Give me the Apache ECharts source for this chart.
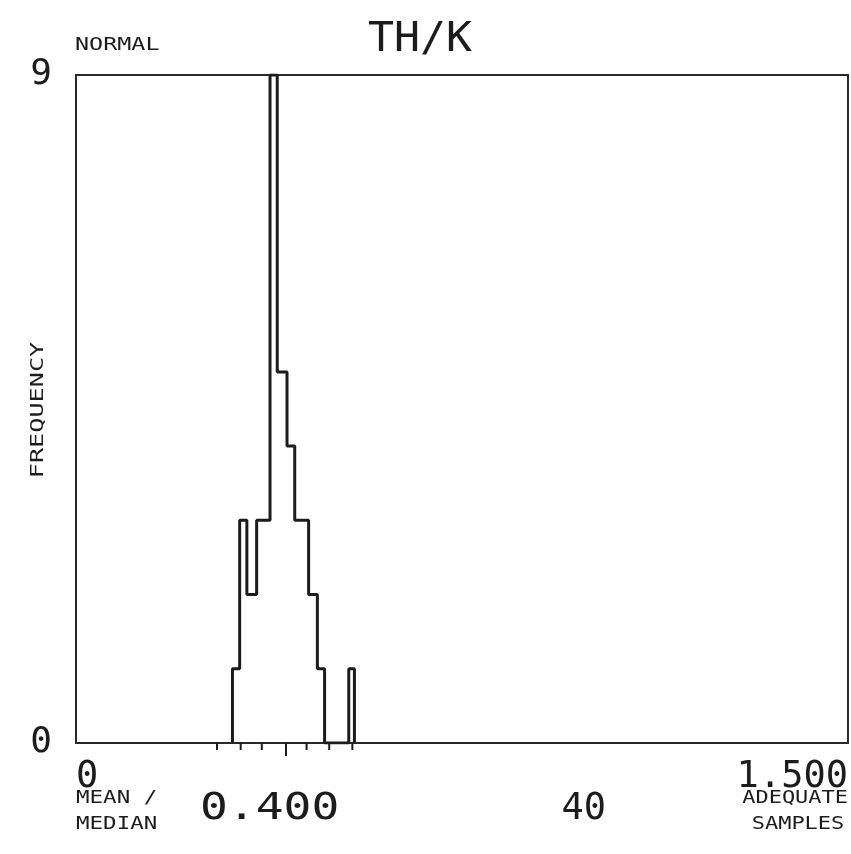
<!DOCTYPE html>
<html>
<head>
<meta charset="utf-8">
<title>TH/K</title>
<script src="https://cdn.jsdelivr.net/npm/echarts@6/dist/echarts.min.js"></script>
<style>
  html, body { margin: 0; padding: 0; background: #fff; }
  #chart { width: 851px; height: 854px; }
</style>
</head>
<body>
<div id="chart"></div>
<script>
// histogram: bin edges (TH/K ratio) and counts per bin
var binEdges = [0.304, 0.318, 0.332, 0.351, 0.377, 0.391, 0.410, 0.425, 0.452, 0.469, 0.483, 0.530, 0.541]
var binCounts = [1, 3, 2, 3, 9, 5, 4, 3, 2, 1, 0, 1]
// short ticks under the axis (mean +- 1,2,3 sd), the long one is the mean
var sdTicks = [0.274, 0.320, 0.361, 0.408, 0.448, 0.492, 0.537]
var meanTickIndex = 3
var xRange = [0, 1.5]
var yRange = [0, 9]
var meanValue = '0.400'
var sampleCount = 40

var font = 'DejaVu Sans Mono'
var ink = '#1c1c1c'

// step outline of the histogram
var outline = [[binEdges[0], 0]]
for (var i = 0; i < binCounts.length; i++) {
    outline.push([binEdges[i], binCounts[i]])
}
outline.push([binEdges[binEdges.length - 1], 0])

var echart = echarts.init(document.getElementById('chart'))

function txt(text, x, y, size, opts) {
    opts = opts || {}
    return {
        type: 'text',
        x: x,
        y: y,
        rotation: opts.rotation || 0,
        scaleX: opts.scaleX || 1,
        silent: true,
        style: {
            text: text,
            fontFamily: font,
            fontSize: size,
            fill: ink,
            textAlign: opts.align || 'left',
            textVerticalAlign: 'middle'
        }
    }
}

var option = {
    backgroundColor: '#fff',
    animation: false,
    grid: {
        left: 76,
        right: 2,
        top: 75,
        bottom: 111,
        show: true,
        borderColor: '#2a2a2a',
        borderWidth: 2,
        backgroundColor: 'transparent'
    },
    xAxis: {
        type: 'value',
        min: xRange[0],
        max: xRange[1],
        interval: xRange[1],
        axisLine: { show: false },
        axisTick: { show: false },
        splitLine: { show: false },
        axisLabel: {
            fontFamily: font,
            fontSize: 37,
            color: ink,
            margin: 16,
            alignMinLabel: 'left',
            alignMaxLabel: 'right',
            formatter: function (v) {
                return v === 0 ? '0' : v.toFixed(3)
            }
        }
    },
    yAxis: {
        type: 'value',
        min: yRange[0],
        max: yRange[1],
        interval: yRange[1],
        axisLine: { show: false },
        axisTick: { show: false },
        splitLine: { show: false },
        axisLabel: {
            fontFamily: font,
            fontSize: 36,
            color: ink,
            margin: 24
        }
    },
    graphic: [
        txt('TH/K', 420, 41, 40, { scaleX: 1.08, align: 'center' }),
        txt('NORMAL', 75, 45, 18, { scaleX: 1.3 }),
        txt('FREQUENCY', 38, 410, 18, { rotation: Math.PI / 2, scaleX: 1.4, align: 'center' }),
        txt('MEAN /', 76, 798, 18, { scaleX: 1.25 }),
        txt('MEDIAN', 76, 824, 18, { scaleX: 1.25 }),
        txt(meanValue, 200, 809, 37, { scaleX: 1.25 }),
        txt(String(sampleCount), 606, 809, 37, { align: 'right' }),
        txt('ADEQUATE', 848, 798, 18, { scaleX: 1.22, align: 'right' }),
        txt('SAMPLES', 798, 824, 18, { scaleX: 1.22, align: 'center' })
    ],
    series: [
        {
            name: 'TH/K',
            type: 'line',
            step: 'end',
            symbol: 'none',
            clip: true,
            lineStyle: { color: ink, width: 3 },
            data: outline
        },
        {
            type: 'custom',
            silent: true,
            clip: false,
            data: sdTicks.map(function (v, i) { return [v, i === meanTickIndex ? 1 : 0] }),
            renderItem: function (params, api) {
                var p = api.coord([api.value(0), 0])
                var len = api.value(1) ? 13 : 7
                return {
                    type: 'line',
                    shape: { x1: p[0], y1: p[1], x2: p[0], y2: p[1] + len },
                    style: { stroke: ink, lineWidth: 2 }
                }
            }
        }
    ]
}
echart.setOption(option)
</script>
</body>
</html>
